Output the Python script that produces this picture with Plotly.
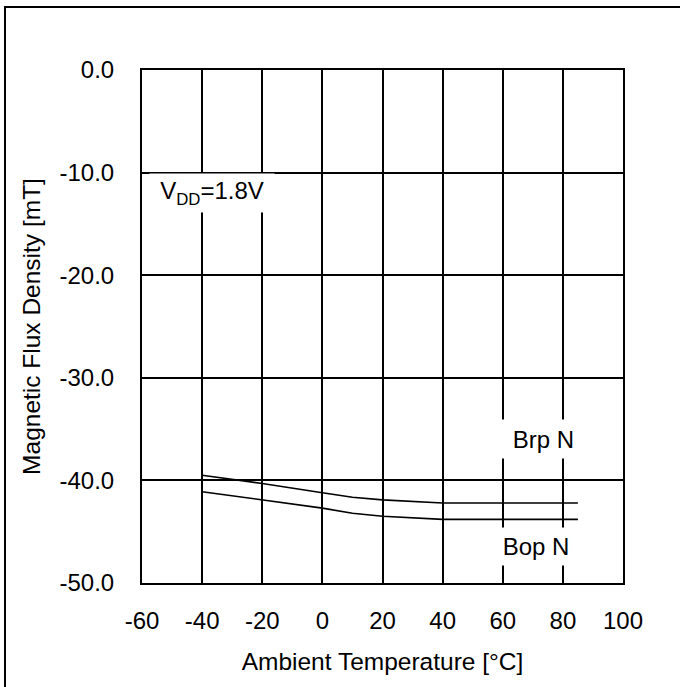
import plotly.graph_objects as go

# Data
temps = [-40, -20, 0, 10, 20, 40, 85]
brp_n = [-39.5, -40.3, -41.2, -41.65, -41.9, -42.2, -42.2]
bop_n = [-41.1, -41.9, -42.7, -43.2, -43.5, -43.8, -43.8]

x_tickvals = [-60, -40, -20, 0, 20, 40, 60, 80, 100]
x_ticktext = ["-60", "-40", "-20", "0", "20", "40", "60", "80", "100"]
y_tickvals = [0, -10, -20, -30, -40, -50]
y_ticktext = ["0.0", "-10.0", "-20.0", "-30.0", "-40.0", "-50.0"]

FONT = "Liberation Sans, Arial, sans-serif"

fig = go.Figure()
fig.add_trace(go.Scatter(x=temps, y=brp_n, mode="lines", name="Brp N",
                         line=dict(color="black", width=1.6)))
fig.add_trace(go.Scatter(x=temps, y=bop_n, mode="lines", name="Bop N",
                         line=dict(color="black", width=1.6)))

fig.update_layout(
    width=680, height=687,
    margin=dict(l=142, r=57, t=70, b=104),
    paper_bgcolor="white", plot_bgcolor="white",
    showlegend=False,
    font=dict(family=FONT, size=24, color="black"),
)
fig.update_xaxes(
    range=[-60, 100], tickvals=x_tickvals, ticktext=x_ticktext,
    showgrid=True, gridcolor="black", gridwidth=1.5,
    showline=True, linecolor="black", linewidth=2, mirror=True,
    zeroline=False, ticks="", ticklabelstandoff=15,
    title=dict(text="Ambient Temperature [°C]", font=dict(size=24.5), standoff=20),
)
fig.update_yaxes(
    range=[-50, 0], tickvals=y_tickvals, ticktext=y_ticktext,
    showgrid=True, gridcolor="black", gridwidth=1.5,
    showline=True, linecolor="black", linewidth=2, mirror=True,
    zeroline=False, ticks="", ticklabelstandoff=21,
    title=dict(text="Magnetic Flux Density [mT]", font=dict(size=24.5), standoff=12),
)

fig.add_annotation(x=-36.7, y=-11.94, text="V<sub>DD</sub>=1.8V", showarrow=False,
                   bgcolor="white", width=124, height=38, borderpad=0,
                   align="center", font=dict(size=24))
fig.add_annotation(x=70.5, y=-35.96, text="Brp N", showarrow=False,
                   bgcolor="white", width=80, height=38, borderpad=0,
                   align="right", font=dict(size=24))
fig.add_annotation(x=71.0, y=-46.44, text="Bop N", showarrow=False,
                   bgcolor="white", width=72, height=37, borderpad=0,
                   align="center", font=dict(size=24))

# outer frame around the figure
fig.add_shape(type="rect", xref="paper", yref="paper",
              x0=-137/481, x1=(700-142)/481, y0=-120/513, y1=1+63/513,
              line=dict(color="black", width=2), fillcolor="rgba(0,0,0,0)",
              layer="above")

fig.write_html("out.html", config={"displayModeBar": False},
               post_script="document.body.style.margin='0px';")
